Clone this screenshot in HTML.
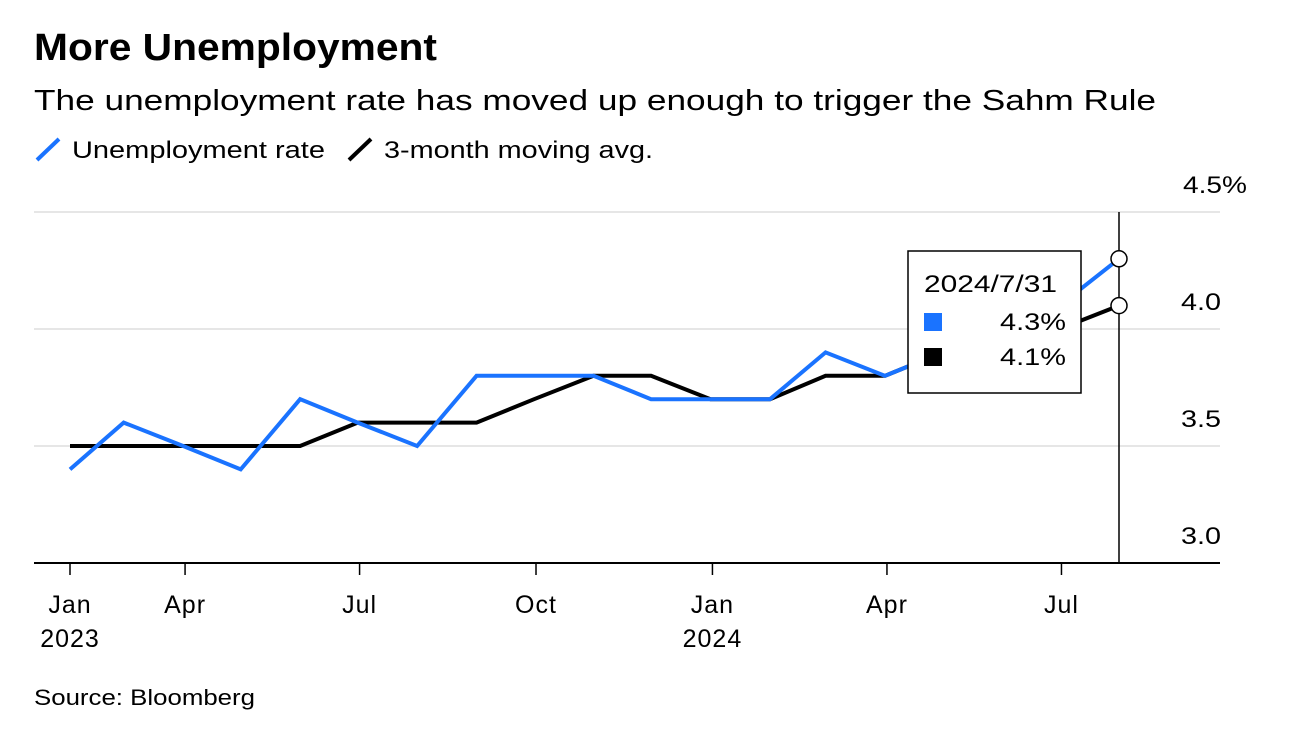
<!DOCTYPE html>
<html><head><meta charset="utf-8"><style>
body{margin:0;background:#fff;width:1298px;height:726px;overflow:hidden;font-family:"Liberation Sans",sans-serif;}
</style></head><body>
<svg width="1298" height="726" xmlns="http://www.w3.org/2000/svg" font-family="Liberation Sans, sans-serif">
<text x="34" y="60" font-size="38" font-weight="bold" fill="#000" textLength="403" lengthAdjust="spacingAndGlyphs">More Unemployment</text>
<text x="34" y="110" font-size="29" fill="#000" textLength="1122" lengthAdjust="spacingAndGlyphs">The unemployment rate has moved up enough to trigger the Sahm Rule</text>
<g>
<line x1="37" y1="160" x2="59" y2="139" stroke="#1a73ff" stroke-width="4"/>
<text x="72" y="158" font-size="24" textLength="253" lengthAdjust="spacingAndGlyphs">Unemployment rate</text>
<line x1="349" y1="160" x2="371" y2="139" stroke="#000" stroke-width="4"/>
<text x="384" y="158" font-size="24" textLength="269" lengthAdjust="spacingAndGlyphs">3-month moving avg.</text>
</g>
<g id="grid"></g><g id="xaxis"></g><g id="series"></g><g id="tip"></g>
<text x="34" y="705" font-size="22" textLength="221" lengthAdjust="spacingAndGlyphs">Source: Bloomberg</text>
</svg>
<script>
const dates=["2023-01-31","2023-02-28","2023-03-31","2023-04-30","2023-05-31","2023-06-30","2023-07-31","2023-08-31","2023-09-30","2023-10-31","2023-11-30","2023-12-31","2024-01-31","2024-02-29","2024-03-31","2024-04-30","2024-05-31","2024-06-30","2024-07-31"];
const unemployment=[3.4,3.6,3.5,3.4,3.7,3.6,3.5,3.8,3.8,3.8,3.7,3.7,3.7,3.9,3.8,3.9,4.0,4.1,4.3];
const movingAvg=[3.5,3.5,3.5,3.5,3.5,3.6,3.6,3.6,3.7,3.8,3.8,3.7,3.7,3.8,3.8,3.9,3.9,4.0,4.1];
const yTicks=[3.0,3.5,4.0,4.5];
const xTickDates=["2023-01-31","2023-04-01","2023-07-01","2023-10-01","2024-01-01","2024-04-01","2024-07-01"];
const xTickLabels=["Jan","Apr","Jul","Oct","Jan","Apr","Jul"];
const xTickYears=["2023","","","","2024","",""];
const tipDate="2024/7/31";
const NS="http://www.w3.org/2000/svg";
const t0=Date.parse(dates[0]),t1=Date.parse(dates[dates.length-1]);
const x=d=>70+(Date.parse(d)-t0)/(t1-t0)*1049;
const y=v=>563-(v-3)*234;
function mk(tag,a,p){const e=document.createElementNS(NS,tag);for(const k in a)e.setAttribute(k,a[k]);p.appendChild(e);return e;}
const grid=document.getElementById('grid');
yTicks.forEach(v=>{
 if(v>3){const l=mk('line',{x1:34,x2:1220,y1:y(v),y2:y(v),stroke:'#e6e6e6','stroke-width':2},grid);
 
 }
 const lab=v===4.5?'4.5%':v.toFixed(1);
 const t=mk('text',{x:v===4.5?1247:1221,y:y(v)-19,'font-size':24,'text-anchor':'end',textLength:v===4.5?64:40,lengthAdjust:'spacingAndGlyphs'},grid);
 t.textContent=lab;
 
 
});
const xa=document.getElementById('xaxis');
const ax=mk('line',{x1:34,x2:1220,y1:563,y2:563,stroke:'#000','stroke-width':2},xa);


xTickDates.forEach((d,i)=>{
 const xx=x(d);
 const tk=mk('line',{x1:xx,x2:xx,y1:563,y2:575,stroke:'#000','stroke-width':1.5},xa);
 
 
 const t=mk('text',{x:xx,y:613,'font-size':25,'text-anchor':'middle','letter-spacing':1},xa);
 t.textContent=xTickLabels[i];
 
 
 if(xTickYears[i]){const t2=mk('text',{x:xx,y:647,'font-size':25,'text-anchor':'middle','letter-spacing':1},xa);
 t2.textContent=xTickYears[i];
 
 }
});
const s=document.getElementById('series');
const pts=arr=>arr.map((v,i)=>x(dates[i])+','+y(v)).join(' ');
const l2=mk('polyline',{points:pts(movingAvg),fill:'none',stroke:'#000','stroke-width':4,'stroke-linejoin':'miter'},s);


const l1=mk('polyline',{points:pts(unemployment),fill:'none',stroke:'#1a73ff','stroke-width':4,'stroke-linejoin':'miter'},s);


const tip=document.getElementById('tip');
const n=dates.length-1,xl=x(dates[n]);
const vl=mk('line',{x1:xl,x2:xl,y1:212,y2:563,stroke:'#000','stroke-width':1.5},tip);


[unemployment[n],movingAvg[n]].forEach((v,i)=>{
 const c=mk('circle',{cx:xl,cy:y(v),r:8,fill:'#fff',stroke:'#000','stroke-width':1.5},tip);
 
 
});
const box=mk('rect',{x:908,y:251,width:173,height:142,fill:'#fff',stroke:'#000','stroke-width':1.5},tip);


const td=mk('text',{x:924,y:292,'font-size':24,textLength:133,lengthAdjust:'spacingAndGlyphs'},tip);td.textContent=tipDate;


[[unemployment[n],'#1a73ff',322],[movingAvg[n],'#000',357]].forEach((r,i)=>{
 const sq=mk('rect',{x:924,y:r[2]-9,width:18,height:18,fill:r[1]},tip);
 
 
 const tv=mk('text',{x:1066,y:r[2]+8,'font-size':24,'text-anchor':'end',textLength:66,lengthAdjust:'spacingAndGlyphs'},tip);
 tv.textContent=r[0].toFixed(1)+'%';
 
 
});
</script>
</body></html>
